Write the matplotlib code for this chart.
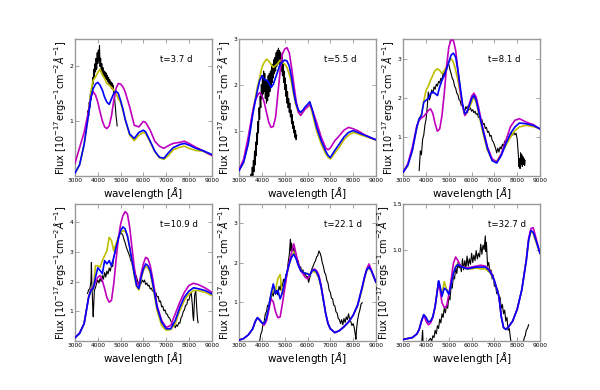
import numpy as np
import matplotlib
matplotlib.use('Agg')
import matplotlib.pyplot as plt

# ---- panel 1: t=3.7 d ----
p1_wave = [3000, 3200, 3400, 3600, 3700, 3800, 3900, 4000, 4100, 4200, 4300, 4400, 4500, 4600, 4700,
           4800, 4900, 5000, 5100, 5200, 5400, 5600, 5800, 6000, 6100, 6300, 6500, 6700, 6900, 7100,
           7300, 7600, 7800, 8000, 8300, 8600, 9000]
p1_blue = [0.06, 0.21, 0.58, 1.14, 1.44, 1.60, 1.68, 1.71, 1.66, 1.57, 1.44, 1.35, 1.31, 1.41, 1.51,
           1.55, 1.51, 1.38, 1.23, 1.04, 0.77, 0.69, 0.80, 0.84, 0.81, 0.64, 0.46, 0.35, 0.33, 0.43,
           0.52, 0.58, 0.60, 0.57, 0.51, 0.47, 0.40]
p1_yellow = [0.06, 0.21, 0.58, 1.16, 1.54, 1.75, 1.81, 1.89, 1.95, 1.85, 1.78, 1.69, 1.66, 1.62, 1.57,
             1.51, 1.41, 1.35, 1.20, 1.04, 0.75, 0.65, 0.75, 0.80, 0.78, 0.62, 0.45, 0.34, 0.31, 0.38,
             0.48, 0.53, 0.55, 0.51, 0.47, 0.46, 0.38]
p1_magenta = [0.24, 0.52, 0.80, 1.20, 1.44, 1.54, 1.48, 1.35, 1.17, 1.01, 0.90, 0.87, 0.92, 1.10, 1.38,
              1.60, 1.69, 1.68, 1.63, 1.54, 1.26, 0.93, 0.90, 1.00, 0.98, 0.84, 0.64, 0.55, 0.51, 0.56,
              0.60, 0.62, 0.64, 0.60, 0.53, 0.47, 0.38]
p1_obs_wave = [3550, 3575, 3600, 3625, 3650, 3675, 3700, 3725, 3750, 3775, 3800, 3825, 3850, 3875, 3900,
               3925, 3950, 3975, 4000, 4025, 4050, 4075, 4100, 4125, 4150, 4175, 4200, 4225, 4250, 4275,
               4300, 4325, 4350, 4375, 4400, 4425, 4450, 4475, 4500, 4525, 4550, 4575, 4600, 4625, 4650,
               4675, 4700, 4725, 4750, 4775, 4800, 4825, 4850]
p1_obs_flux = [1.05, 1.20, 1.10, 1.35, 1.25, 1.50, 1.40, 1.62, 1.55, 1.80, 1.68, 1.95, 1.82, 2.05, 1.90,
               2.15, 1.95, 2.25, 2.05, 2.30, 2.10, 2.38, 2.00, 2.15, 1.90, 2.05, 1.85, 1.98, 1.82, 1.92,
               1.80, 1.90, 1.78, 1.88, 1.76, 1.84, 1.72, 1.80, 1.68, 1.76, 1.64, 1.72, 1.60, 1.70, 1.58,
               1.66, 1.50, 1.55, 1.35, 1.25, 1.10, 1.02, 0.92]

# ---- panel 2: t=5.5 d ----
p2_wave = [3000, 3200, 3400, 3600, 3700, 3800, 3900, 4000, 4100, 4200, 4300, 4400, 4500, 4600, 4700,
           4800, 4900, 5000, 5100, 5200, 5300, 5400, 5500, 5600, 5700, 5800, 5900, 6000, 6100, 6200,
           6400, 6600, 6800, 6900, 7000, 7200, 7400, 7600, 7800, 8000, 8200, 8500, 8800, 9000]
p2_blue = [0.13, 0.31, 0.71, 1.36, 1.62, 1.87, 2.09, 2.20, 2.12, 2.10, 2.05, 1.94, 2.01, 2.16, 2.30,
           2.45, 2.50, 2.54, 2.52, 2.41, 2.16, 1.83, 1.59, 1.45, 1.40, 1.45, 1.52, 1.57, 1.63, 1.47,
           1.07, 0.78, 0.55, 0.46, 0.41, 0.57, 0.71, 0.86, 0.96, 1.00, 0.96, 0.90, 0.84, 0.80]
p2_yellow = [0.13, 0.31, 0.72, 1.40, 1.68, 1.95, 2.15, 2.38, 2.49, 2.56, 2.52, 2.45, 2.38, 2.42, 2.47,
             2.54, 2.49, 2.45, 2.38, 2.23, 2.05, 1.76, 1.54, 1.40, 1.36, 1.43, 1.48, 1.51, 1.57, 1.40,
             1.00, 0.71, 0.49, 0.42, 0.38, 0.51, 0.64, 0.80, 0.90, 0.96, 0.93, 0.88, 0.83, 0.79]
p2_magenta = [0.14, 0.38, 0.86, 1.43, 1.65, 1.76, 1.83, 1.76, 1.62, 1.40, 1.18, 1.07, 1.09, 1.29, 1.80,
              2.30, 2.67, 2.78, 2.81, 2.70, 2.38, 2.01, 1.65, 1.40, 1.33, 1.40, 1.47, 1.52, 1.57, 1.47,
              1.18, 0.86, 0.62, 0.58, 0.62, 0.78, 0.89, 1.01, 1.07, 1.04, 1.00, 0.91, 0.84, 0.80]
p2_obs_wave = [3500, 3525, 3550, 3575, 3600, 3625, 3650, 3675, 3700, 3725, 3750, 3775, 3800, 3825, 3850,
               3875, 3900, 3925, 3950, 3975, 4000, 4025, 4050, 4075, 4100, 4125, 4150, 4175, 4200, 4225,
               4250, 4275, 4300, 4325, 4350, 4375, 4400, 4425, 4450, 4475, 4500, 4525, 4550, 4575, 4600,
               4625, 4650, 4675, 4700, 4725, 4750, 4775, 4800, 4825, 4850, 4875, 4900, 4925, 4950, 4975,
               5000, 5025, 5050, 5075, 5100, 5125, 5150, 5175, 5200, 5225, 5250, 5275, 5300, 5325, 5350,
               5375, 5400, 5425, 5450, 5475, 5500, 5525]
p2_obs_flux = [-0.20, 0.05, -0.10, 0.20, 0.00, 0.35, 0.10, 0.55, 0.25, 0.75, 0.45, 0.95, 0.70, 1.20, 0.95,
               1.50, 1.25, 1.75, 1.50, 2.00, 1.70, 2.20, 1.80, 2.30, 1.85, 2.25, 1.70, 2.10, 1.60, 2.05,
               1.65, 2.20, 1.75, 2.25, 1.85, 2.30, 1.95, 2.40, 2.05, 2.45, 2.15, 2.55, 2.25, 2.60, 2.30,
               2.70, 2.40, 2.75, 2.45, 2.80, 2.50, 2.75, 2.40, 2.70, 2.30, 2.60, 2.20, 2.45, 2.05, 2.30,
               1.90, 2.15, 1.75, 2.00, 1.60, 1.85, 1.50, 1.70, 1.40, 1.60, 1.30, 1.45, 1.15, 1.35, 1.05,
               1.20, 0.95, 1.10, 0.85, 1.00, 0.80, 0.90]

# ---- panel 3: t=8.1 d ----
p3_wave = [3000, 3200, 3400, 3600, 3700, 3800, 3900, 4000, 4100, 4200, 4300, 4400, 4500, 4600, 4700,
           4800, 4900, 5000, 5100, 5200, 5300, 5400, 5500, 5600, 5700, 5800, 5900, 6000, 6100, 6200,
           6300, 6500, 6700, 6900, 7100, 7300, 7500, 7700, 7900, 8100, 8400, 8700, 9000]
p3_blue = [0.11, 0.28, 0.66, 1.26, 1.47, 1.55, 1.89, 1.94, 1.98, 2.11, 2.15, 2.11, 2.06, 2.28, 2.45,
           2.57, 2.74, 2.91, 3.09, 3.14, 3.04, 2.70, 2.28, 1.85, 1.60, 1.64, 1.81, 1.98, 2.06, 1.94,
           1.68, 1.17, 0.70, 0.40, 0.34, 0.53, 0.83, 1.09, 1.26, 1.36, 1.34, 1.30, 1.21]
p3_yellow = [0.11, 0.28, 0.66, 1.26, 1.47, 1.58, 1.92, 2.19, 2.30, 2.45, 2.58, 2.70, 2.74, 2.70, 2.62,
             2.70, 2.79, 2.91, 3.00, 2.91, 2.70, 2.45, 2.11, 1.81, 1.58, 1.61, 1.75, 1.89, 2.02, 1.89,
             1.64, 1.09, 0.66, 0.42, 0.39, 0.57, 0.79, 1.00, 1.17, 1.26, 1.30, 1.27, 1.21]
p3_magenta = [0.11, 0.32, 0.74, 1.30, 1.43, 1.49, 1.53, 1.60, 1.68, 1.72, 1.60, 1.34, 1.15, 1.21, 1.55,
              2.11, 2.79, 3.30, 3.47, 3.47, 3.21, 2.70, 2.19, 1.81, 1.55, 1.64, 1.85, 2.04, 2.12, 2.02,
              1.77, 1.21, 0.74, 0.45, 0.36, 0.57, 0.91, 1.26, 1.43, 1.47, 1.38, 1.32, 1.21]
p3_obs_wave = [3700, 3750, 3800, 3850, 3900, 3950, 4000, 4050, 4100, 4150, 4200, 4250, 4300, 4350, 4400,
               4450, 4500, 4550, 4600, 4650, 4700, 4750, 4800, 4850, 4900, 4950, 5000, 5050, 5100, 5150,
               5200, 5250, 5300, 5350, 5400, 5450, 5500, 5550, 5600, 5650, 5700, 5750, 5800, 5850, 5900,
               5950, 6000, 6050, 6100, 6150, 6200, 6250, 6300, 6350, 6400, 6450, 6500, 6550, 6600, 6650,
               6700, 6750, 6800, 6850, 6900, 6950, 7000, 7050, 7100, 7150, 7200, 7250, 7300, 7350, 7400,
               7450, 7500, 7550, 7600, 7650, 7700, 7750, 7800, 7850, 7900, 7950, 8000, 8050, 8075, 8100,
               8125, 8150, 8175, 8200, 8225, 8250, 8275, 8300, 8325, 8350]
p3_obs_flux = [0.15, 0.65, 0.55, 0.95, 1.05, 1.30, 1.45, 1.75, 2.15, 1.95, 2.05, 2.20, 2.12, 2.28, 2.22,
               2.35, 2.30, 2.42, 2.38, 2.50, 2.45, 2.62, 2.58, 2.75, 2.70, 2.88, 2.85, 2.72, 2.62, 2.50,
               2.45, 2.30, 2.25, 2.12, 2.08, 1.95, 1.92, 1.80, 1.82, 1.70, 1.66, 1.78, 1.72, 1.80, 1.70,
               1.74, 1.66, 1.70, 1.62, 1.66, 1.58, 1.60, 1.50, 1.52, 1.42, 1.45, 1.32, 1.35, 1.22, 1.25,
               1.12, 1.15, 1.02, 1.05, 0.92, 0.88, 0.80, 0.72, 0.60, 0.72, 0.62, 0.75, 0.70, 0.82, 0.76,
               0.90, 0.84, 0.95, 0.90, 1.02, 0.98, 1.10, 1.05, 1.12, 1.06, 1.10, 0.95, 0.55, 0.25, 0.45,
               0.20, 0.60, 0.30, 0.55, 0.25, 0.50, 0.30, 0.45, 0.28, 0.40]

# ---- panel 4: t=10.9 d ----
p4_wave = [3000, 3200, 3400, 3600, 3700, 3800, 3900, 4000, 4100, 4200, 4300, 4400, 4500, 4600, 4700,
           4800, 4900, 5000, 5100, 5200, 5300, 5400, 5500, 5600, 5700, 5800, 5900, 6000, 6100, 6200,
           6300, 6400, 6600, 6800, 7000, 7200, 7400, 7600, 7800, 8000, 8200, 8400, 8700, 9000]
p4_blue = [0.12, 0.26, 0.59, 1.48, 1.70, 1.76, 2.14, 2.46, 2.37, 2.26, 2.70, 2.59, 2.70, 2.53, 2.81,
           3.14, 3.42, 3.70, 3.83, 3.76, 3.53, 3.14, 2.70, 2.26, 1.87, 1.76, 2.14, 2.42, 2.59, 2.53,
           2.37, 1.98, 1.14, 0.64, 0.42, 0.42, 0.70, 1.14, 1.48, 1.68, 1.79, 1.76, 1.70, 1.59]
p4_yellow = [0.12, 0.26, 0.59, 1.48, 1.72, 1.72, 2.53, 2.53, 2.48, 2.70, 2.87, 3.03, 3.48, 3.37, 3.03,
             3.26, 3.48, 3.64, 3.70, 3.68, 3.53, 3.14, 2.64, 2.20, 1.83, 1.72, 2.09, 2.37, 2.50, 2.46,
             2.28, 1.90, 1.03, 0.53, 0.37, 0.39, 0.59, 1.03, 1.37, 1.59, 1.70, 1.70, 1.64, 1.53]
p4_magenta = [0.12, 0.28, 0.59, 1.48, 1.73, 1.79, 1.98, 2.14, 2.20, 2.03, 1.76, 1.46, 1.31, 1.37, 1.92,
              2.70, 3.42, 3.92, 4.20, 4.34, 4.26, 3.81, 3.14, 2.48, 1.98, 1.87, 2.26, 2.59, 2.81, 2.76,
              2.53, 2.14, 1.20, 0.70, 0.46, 0.53, 0.92, 1.31, 1.64, 1.87, 1.94, 1.90, 1.79, 1.64]
p4_obs_wave = [3550, 3600, 3650, 3700, 3720, 3740, 3760, 3780, 3800, 3820, 3850, 3900, 3950, 4000, 4050,
               4100, 4150, 4200, 4250, 4300, 4350, 4400, 4450, 4500, 4550, 4600, 4650, 4700, 4750, 4800,
               4850, 4900, 4950, 5000, 5050, 5100, 5150, 5200, 5250, 5300, 5350, 5400, 5450, 5500, 5550,
               5600, 5650, 5700, 5750, 5800, 5850, 5900, 5950, 6000, 6050, 6100, 6150, 6200, 6250, 6300,
               6350, 6400, 6450, 6500, 6550, 6600, 6650, 6700, 6750, 6800, 6850, 6900, 6950, 7000, 7050,
               7100, 7150, 7200, 7250, 7300, 7350, 7400, 7450, 7500, 7550, 7600, 7650, 7700, 7750, 7800,
               7850, 7900, 7950, 8000, 8050, 8100, 8150, 8175, 8200, 8225, 8250, 8300, 8325, 8350, 8375,
               8400]
p4_obs_flux = [1.60, 1.72, 1.76, 2.00, 2.64, 1.90, 1.55, 1.10, 0.82, 1.20, 1.70, 1.80, 1.95, 2.05, 1.95,
               2.10, 2.00, 2.20, 2.08, 2.30, 2.15, 2.35, 2.25, 2.45, 2.35, 2.55, 2.50, 2.80, 2.95, 3.15,
               3.30, 3.50, 3.60, 3.72, 3.60, 3.55, 3.40, 3.30, 3.15, 3.05, 2.95, 2.85, 2.70, 2.62, 2.45,
               2.40, 2.25, 2.15, 2.00, 1.95, 1.85, 1.95, 2.05, 1.98, 2.05, 1.90, 1.95, 1.85, 1.88, 1.75,
               1.78, 1.68, 1.72, 1.58, 1.62, 1.48, 1.50, 1.32, 1.35, 1.15, 1.18, 1.02, 1.05, 0.92, 0.90,
               0.80, 0.78, 0.68, 0.62, 0.52, 0.58, 0.45, 0.55, 0.50, 0.62, 0.60, 0.78, 0.85, 1.00, 1.05,
               1.20, 1.22, 1.40, 1.38, 1.55, 1.62, 1.20, 0.85, 0.70, 1.10, 1.55, 1.70, 1.30, 1.00, 0.75,
               0.62]

# ---- panel 5: t=22.1 d ----
p5_wave = [3000, 3200, 3400, 3600, 3700, 3800, 3900, 4000, 4100, 4200, 4300, 4400, 4500, 4600, 4700,
           4800, 4900, 5000, 5100, 5200, 5300, 5400, 5500, 5600, 5700, 5800, 5900, 6000, 6100, 6200,
           6300, 6400, 6500, 6600, 6700, 6800, 6900, 7000, 7200, 7400, 7600, 7800, 8000, 8200, 8400,
           8500, 8600, 8700, 8800, 9000]
p5_blue = [0.03, 0.07, 0.16, 0.32, 0.49, 0.60, 0.55, 0.47, 0.45, 0.58, 0.87, 1.21, 1.46, 1.21, 1.30,
           1.08, 1.25, 1.51, 1.76, 1.97, 2.14, 2.22, 2.10, 1.93, 1.80, 1.76, 1.73, 1.72, 1.68, 1.80,
           1.82, 1.76, 1.63, 1.38, 1.04, 0.70, 0.45, 0.32, 0.22, 0.27, 0.37, 0.49, 0.66, 0.92, 1.38,
           1.63, 1.82, 1.89, 1.80, 1.51]
p5_yellow = [0.03, 0.07, 0.16, 0.32, 0.49, 0.60, 0.55, 0.47, 0.45, 0.58, 0.87, 1.17, 1.34, 1.30, 1.60,
             1.70, 1.20, 1.40, 1.72, 1.97, 2.14, 2.27, 2.14, 1.93, 1.80, 1.76, 1.73, 1.72, 1.70, 1.76,
             1.78, 1.72, 1.60, 1.36, 1.02, 0.70, 0.45, 0.32, 0.22, 0.27, 0.37, 0.49, 0.66, 0.92, 1.33,
             1.60, 1.80, 1.88, 1.78, 1.49]
p5_magenta = [0.03, 0.07, 0.16, 0.32, 0.50, 0.60, 0.53, 0.47, 0.41, 0.52, 0.79, 1.08, 1.00, 0.75, 0.60,
              0.62, 0.96, 1.34, 1.72, 2.01, 2.27, 2.48, 2.22, 1.97, 1.80, 1.72, 1.63, 1.59, 1.68, 1.80,
              1.84, 1.80, 1.68, 1.42, 1.06, 0.70, 0.45, 0.32, 0.22, 0.27, 0.37, 0.49, 0.66, 0.92, 1.38,
              1.63, 1.85, 1.97, 1.82, 1.51]
p5_obs_wave = [3900, 3950, 4000, 4050, 4100, 4150, 4200, 4250, 4300, 4350, 4400, 4450, 4500, 4550, 4600,
               4650, 4700, 4750, 4800, 4850, 4900, 4950, 5000, 5050, 5100, 5150, 5200, 5250, 5275, 5300,
               5350, 5400, 5450, 5500, 5550, 5600, 5650, 5700, 5750, 5800, 5850, 5900, 5950, 6000, 6050,
               6100, 6150, 6200, 6250, 6300, 6350, 6400, 6450, 6500, 6550, 6600, 6650, 6700, 6750, 6800,
               6850, 6900, 6950, 7000, 7050, 7100, 7150, 7200, 7250, 7300, 7350, 7400, 7450, 7500, 7550,
               7600, 7650, 7700, 7750, 7800, 7850, 7900, 7950, 8000, 8050, 8100, 8125, 8150, 8200, 8250,
               8300, 8350, 8400]
p5_obs_flux = [0.00, 0.18, 0.25, 0.45, 0.50, 0.70, 0.75, 0.92, 0.90, 1.10, 1.05, 1.25, 1.15, 1.32, 1.20,
               1.30, 1.18, 1.40, 1.30, 1.48, 1.40, 1.58, 1.50, 1.70, 1.72, 2.00, 2.20, 2.60, 2.30, 2.50,
               2.30, 2.40, 2.15, 2.20, 2.00, 2.05, 1.85, 1.90, 1.75, 1.82, 1.68, 1.75, 1.62, 1.65, 1.50,
               1.62, 1.75, 1.85, 1.92, 2.00, 2.05, 2.15, 2.18, 2.30, 2.25, 2.15, 2.00, 1.90, 1.75, 1.70,
               1.55, 1.48, 1.30, 1.25, 1.10, 1.08, 0.92, 0.90, 0.75, 0.72, 0.58, 0.55, 0.45, 0.55, 0.42,
               0.58, 0.48, 0.62, 0.55, 0.70, 0.55, 0.50, 0.40, 0.45, 0.35, 0.15, 0.05, 0.30, 0.55, 0.70,
               0.80, 0.95, 0.98]

# ---- panel 6: t=32.7 d ----
p6_wave = [3000, 3200, 3400, 3600, 3700, 3800, 3900, 4000, 4100, 4200, 4300, 4400, 4500, 4550, 4600,
           4700, 4800, 4900, 5000, 5100, 5200, 5300, 5400, 5500, 5600, 5800, 6000, 6200, 6400, 6600,
           6700, 6800, 6900, 7000, 7200, 7300, 7400, 7500, 7600, 7800, 8000, 8200, 8400, 8500, 8600,
           8700, 8800, 9000]
p6_blue = [0.02, 0.03, 0.04, 0.08, 0.13, 0.22, 0.29, 0.26, 0.21, 0.22, 0.27, 0.38, 0.56, 0.66, 0.62,
           0.49, 0.58, 0.56, 0.51, 0.62, 0.74, 0.81, 0.84, 0.82, 0.81, 0.79, 0.80, 0.81, 0.81, 0.81,
           0.79, 0.76, 0.72, 0.66, 0.49, 0.27, 0.15, 0.13, 0.15, 0.22, 0.35, 0.56, 0.88, 1.10, 1.21,
           1.19, 1.12, 0.96]
p6_yellow = [0.02, 0.03, 0.04, 0.08, 0.13, 0.22, 0.29, 0.26, 0.21, 0.22, 0.27, 0.38, 0.56, 0.65, 0.60,
             0.52, 0.65, 0.57, 0.52, 0.62, 0.74, 0.82, 0.85, 0.83, 0.81, 0.79, 0.79, 0.80, 0.79, 0.79,
             0.77, 0.75, 0.71, 0.66, 0.49, 0.27, 0.15, 0.13, 0.15, 0.22, 0.35, 0.56, 0.88, 1.10, 1.20,
             1.18, 1.10, 0.96]
p6_magenta = [0.02, 0.03, 0.04, 0.08, 0.13, 0.22, 0.29, 0.22, 0.18, 0.20, 0.26, 0.38, 0.56, 0.65, 0.58,
              0.42, 0.37, 0.38, 0.51, 0.67, 0.85, 0.92, 0.88, 0.83, 0.81, 0.80, 0.81, 0.82, 0.83, 0.82,
              0.80, 0.77, 0.73, 0.66, 0.49, 0.27, 0.15, 0.13, 0.15, 0.22, 0.35, 0.56, 0.90, 1.12, 1.23,
              1.24, 1.15, 0.96]
p6_obs_wave = [3800, 3850, 3870, 3900, 4000, 4100, 4150, 4200, 4250, 4300, 4350, 4400, 4450, 4500, 4550,
               4600, 4650, 4700, 4750, 4800, 4850, 4900, 4950, 5000, 5050, 5100, 5150, 5200, 5250, 5300,
               5350, 5400, 5450, 5500, 5550, 5600, 5650, 5700, 5750, 5800, 5850, 5900, 5950, 6000, 6050,
               6100, 6150, 6200, 6250, 6300, 6350, 6400, 6450, 6500, 6550, 6600, 6625, 6650, 6700, 6750,
               6800, 6850, 6900, 6950, 7000, 7050, 7100, 7150, 7200, 7250, 7300, 7350, 7400, 7450, 7500,
               7550, 7600, 7650, 7700, 7750, 8000, 8250, 8300, 8350, 8400, 8450, 8500]
p6_obs_flux = [-0.05, 0.12, -0.02, -0.05, -0.03, 0.00, 0.02, 0.03, 0.00, 0.06, 0.04, 0.12, 0.08, 0.17, 0.14,
               0.24, 0.20, 0.30, 0.26, 0.36, 0.31, 0.40, 0.36, 0.49, 0.45, 0.60, 0.58, 0.71, 0.68, 0.80,
               0.74, 0.86, 0.80, 0.84, 0.76, 0.90, 0.78, 0.88, 0.80, 0.93, 0.82, 0.90, 0.84, 0.96, 0.86,
               0.94, 0.88, 0.99, 0.90, 0.96, 0.92, 1.06, 0.95, 1.05, 1.00, 1.15, 0.98, 1.08, 0.82, 0.86,
               0.76, 0.78, 0.68, 0.72, 0.60, 0.62, 0.52, 0.56, 0.45, 0.48, 0.36, 0.40, 0.30, 0.34, 0.22,
               0.26, 0.12, 0.14, 0.04, -0.05, np.nan, -0.05, 0.03, 0.06, 0.12, 0.14, 0.18]

epochs = ['t=3.7 d', 't=5.5 d', 't=8.1 d', 't=10.9 d', 't=22.1 d', 't=32.7 d']
y_tops = [2.5, 3.0, 3.5, 4.6, 3.5, 1.5]
y_ticks = [[1, 2], [1, 2, 3], [1, 2, 3], [1, 2, 3, 4], [1, 2, 3], [1.0, 1.5]]
x_ticks = [3000, 4000, 5000, 6000, 7000, 8000, 9000]

panels = [
    (p1_wave, p1_yellow, p1_magenta, p1_blue, p1_obs_wave, p1_obs_flux),
    (p2_wave, p2_yellow, p2_magenta, p2_blue, p2_obs_wave, p2_obs_flux),
    (p3_wave, p3_yellow, p3_magenta, p3_blue, p3_obs_wave, p3_obs_flux),
    (p4_wave, p4_yellow, p4_magenta, p4_blue, p4_obs_wave, p4_obs_flux),
    (p5_wave, p5_yellow, p5_magenta, p5_blue, p5_obs_wave, p5_obs_flux),
    (p6_wave, p6_yellow, p6_magenta, p6_blue, p6_obs_wave, p6_obs_flux),
]

fig, axes = plt.subplots(2, 3, figsize=(6, 3.9), dpi=100)
fig.subplots_adjust(left=0.125, right=0.9, top=0.9, bottom=0.125, wspace=0.2, hspace=0.2)

for i, ax in enumerate(axes.flat):
    wave, yel, mag, blu, ow, of = panels[i]
    ax.plot(ow, of, color='k', lw=0.8, zorder=1)
    ax.plot(wave, yel, color='#bfbf00', lw=1.2, zorder=2)
    ax.plot(wave, mag, color='#bf00bf', lw=1.2, zorder=3)
    ax.plot(wave, blu, color='#0000ff', lw=1.2, zorder=4)

    ax.set_xlim(3000, 9000)
    ax.set_ylim(0, y_tops[i])
    ax.set_xticks(x_ticks)
    ax.set_yticks(y_ticks[i])
    ax.tick_params(direction='in', top=True, right=True, length=3, width=0.5,
                   color='0.5', labelsize=4.3, pad=1.2)
    for sp in ax.spines.values():
        sp.set_color('0.6')
        sp.set_linewidth(1.0)

    ax.text(0.62, 0.85, epochs[i], transform=ax.transAxes, fontsize=6.2, va='center')
    ax.set_xlabel(r'wavelength [$\AA$]', fontsize=7.5, labelpad=1.5)
    ax.set_ylabel(r'Flux [$10^{-17}$ergs$^{-1}$cm$^{-2}\AA^{-1}$]', fontsize=7, labelpad=1)

fig.savefig('out.png', dpi=100)
